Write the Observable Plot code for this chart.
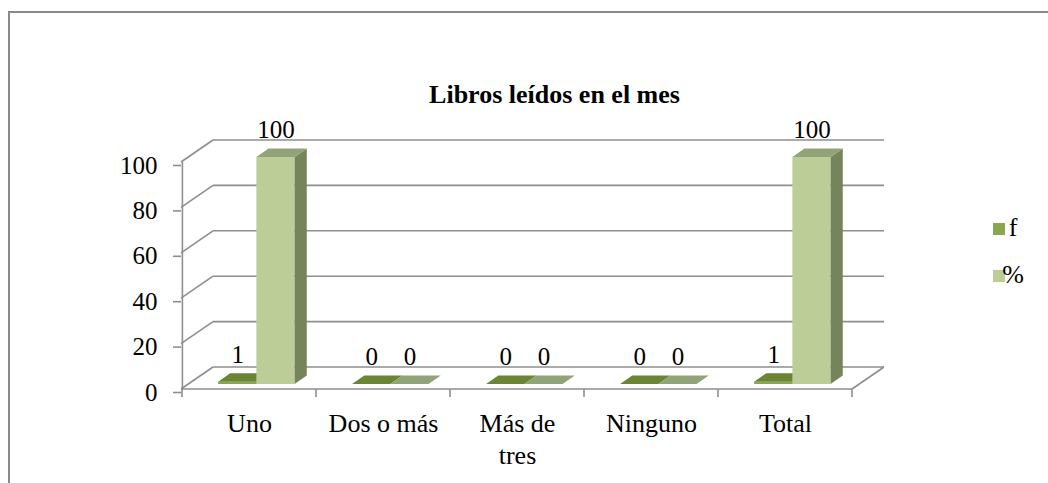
<!DOCTYPE html>
<html>
<head>
<meta charset="utf-8">
<script src="https://cdn.jsdelivr.net/npm/d3@7"></script>
<script src="https://cdn.jsdelivr.net/npm/@observablehq/plot@0.6"></script>
<style>
  html, body { margin: 0; padding: 0; background: #fff; overflow: hidden; }
  #frame { position: absolute; left: 8px; top: 11px; width: 1100px; height: 540px; border: 2px solid #8a8a8a; box-sizing: border-box; }
  #chart { position: absolute; left: 0; top: 0; }
</style>
</head>
<body>
<div id="frame"></div>
<div id="chart"></div>
<script>
const title = "Libros leídos en el mes";
const categories = ["Uno", "Dos o más", "Más de tres", "Ninguno", "Total"];
const seriesNames = ["f", "%"];
const fValues = [1, 0, 0, 0, 1];
const pctValues = [100, 0, 0, 0, 100];
const yTicks = [0, 20, 40, 60, 80, 100];

const W = 1048, H = 483;
const margin = {left: 181, right: 196, top: 162, bottom: 94};
const DX = 32, DY = -22;            // depth vector of the 3D box (pixels)
const d0 = 0.23, d1 = 0.61;          // bar depth span (fraction of box depth)
const barFrac = 0.285;               // bar width as fraction of band
const grid = "#8e8e8e";
const font = "'Liberation Serif', 'Times New Roman', serif";
const colors = {
  f:   {front: "#8aa64e", top: "#6b8535", side: "#5b7230", legend: "#8aa64e"},
  "%": {front: "#bccd97", top: "#93a379", side: "#76845b", legend: "#bccd98"}
};

const rows = [];
categories.forEach((c, i) => {
  rows.push({cat: c, series: "f", value: fValues[i]});
  rows.push({cat: c, series: "%", value: pctValues[i]});
});

const band = (W - margin.left - margin.right) / categories.length;
const bw = band * barFrac;

function poly(g, pts, fill) {
  g.append("polygon").attr("points", pts.map(p => p.join(",")).join(" ")).attr("fill", fill);
}

// Back wall, left wall and floor drawn with the chart's scales
function walls(index, scales, values, dims) {
  const {x, y} = scales;
  const g = d3.create("svg:g").attr("fill", "none").attr("stroke", grid).attr("stroke-width", 1.6);
  const x0 = x.range()[0], x1 = x.range()[1];
  for (const t of yTicks) {
    const yy = y(t);
    g.append("line").attr("x1", x0 + DX).attr("x2", x1 + DX).attr("y1", yy + DY).attr("y2", yy + DY);
    g.append("line").attr("x1", x0).attr("x2", x0 + DX).attr("y1", yy).attr("y2", yy + DY);
  }
  g.append("line").attr("x1", x0).attr("x2", x1).attr("y1", y(0)).attr("y2", y(0));
  g.append("line").attr("x1", x1).attr("x2", x1 + DX).attr("y1", y(0)).attr("y2", y(0) + DY);
  const doms = x.domain();
  const bounds = doms.map(d => x(d)).concat([x(doms[doms.length - 1]) + x.bandwidth()]);
  for (const b of bounds) {
    g.append("line").attr("x1", b).attr("x2", b).attr("y1", y(0)).attr("y2", y(0) + 8);
  }
  return g.node();
}

function bars3d(index, scales, values, dims) {
  const {x, y} = scales;
  const g = d3.create("svg:g");
  for (const s of seriesNames) {
    for (const r of rows.filter(r => r.series === s)) {
      const xc = x(r.cat) + x.bandwidth() / 2;
      const L = (s === "f" ? xc - bw : xc);
      const R = L + bw;
      const top = y(r.value), bot = y(0);
      const c = colors[s];
      const f = [d0 * DX, d0 * DY], b = [d1 * DX, d1 * DY];
      if (bot - top > 0.5) {
        poly(g, [[L + f[0], top + f[1]], [R + f[0], top + f[1]], [R + f[0], bot + f[1]], [L + f[0], bot + f[1]]], c.front);
        poly(g, [[R + f[0], top + f[1]], [R + b[0], top + b[1]], [R + b[0], bot + b[1]], [R + f[0], bot + f[1]]], c.side);
      }
      poly(g, [[L + f[0], top + f[1]], [R + f[0], top + f[1]], [R + b[0], top + b[1]], [L + b[0], top + b[1]]], c.top);
    }
  }
  return g.node();
}

function legend(index, scales, values, dims) {
  const g = d3.create("svg:g").attr("font-family", font).attr("font-size", 26);
  seriesNames.forEach((s, i) => {
    const yy = 223 + i * 47;
    g.append("rect").attr("x", 993).attr("y", yy).attr("width", 12).attr("height", 12).attr("fill", colors[s].legend);
    g.append("text").attr("x", 1013).attr("y", yy + 13).attr("fill", "#000").text(s);
  });
  return g.node();
}

const labelDy = d0 * DY - 19;
const chart = Plot.plot({
  width: W,
  height: H,
  marginLeft: margin.left,
  marginRight: margin.right,
  marginTop: margin.top,
  marginBottom: margin.bottom,
  style: {fontFamily: font, background: "transparent", overflow: "visible"},
  x: {type: "band", domain: categories, padding: 0, axis: null},
  y: {type: "linear", domain: [0, 100], axis: null},
  marks: [
    walls,
    Plot.ruleX([0], {x: () => categories[0], dx: -band / 2, y1: 0, y2: 100, stroke: grid, strokeWidth: 1.6}),
    Plot.axisY({ticks: yTicks, tickSize: 8, tickPadding: 16, fontSize: 25, stroke: grid, strokeWidth: 1.6, fill: "#000", label: null, dy: 3}),
    Plot.axisX({
      tickSize: 0, tickPadding: 20, fontSize: 26, fill: "#000", label: null, lineHeight: 1.22,
      tickFormat: d => d === "Más de tres" ? "Más de\ntres" : d
    }),
    bars3d,
    Plot.text(rows.filter(r => r.series === "f"), {
      x: "cat", y: "value", text: d => String(d.value),
      dx: -bw / 2 + d0 * DX, dy: labelDy, lineAnchor: "bottom",
      fontSize: 25, fill: "#000"
    }),
    Plot.text(rows.filter(r => r.series === "%"), {
      x: "cat", y: "value", text: d => String(d.value),
      dx: bw / 2 + d0 * DX, dy: labelDy, lineAnchor: "bottom",
      fontSize: 25, fill: "#000"
    }),
    Plot.text([title], {
      frameAnchor: "top", text: d => d, dx: 554 - (margin.left + (W - margin.left - margin.right) / 2),
      dy: -(margin.top - 102), lineAnchor: "bottom", fontSize: 26, fontWeight: "bold", fill: "#000"
    }),
    legend
  ]
});
document.getElementById("chart").appendChild(chart);
</script>
</body>
</html>
